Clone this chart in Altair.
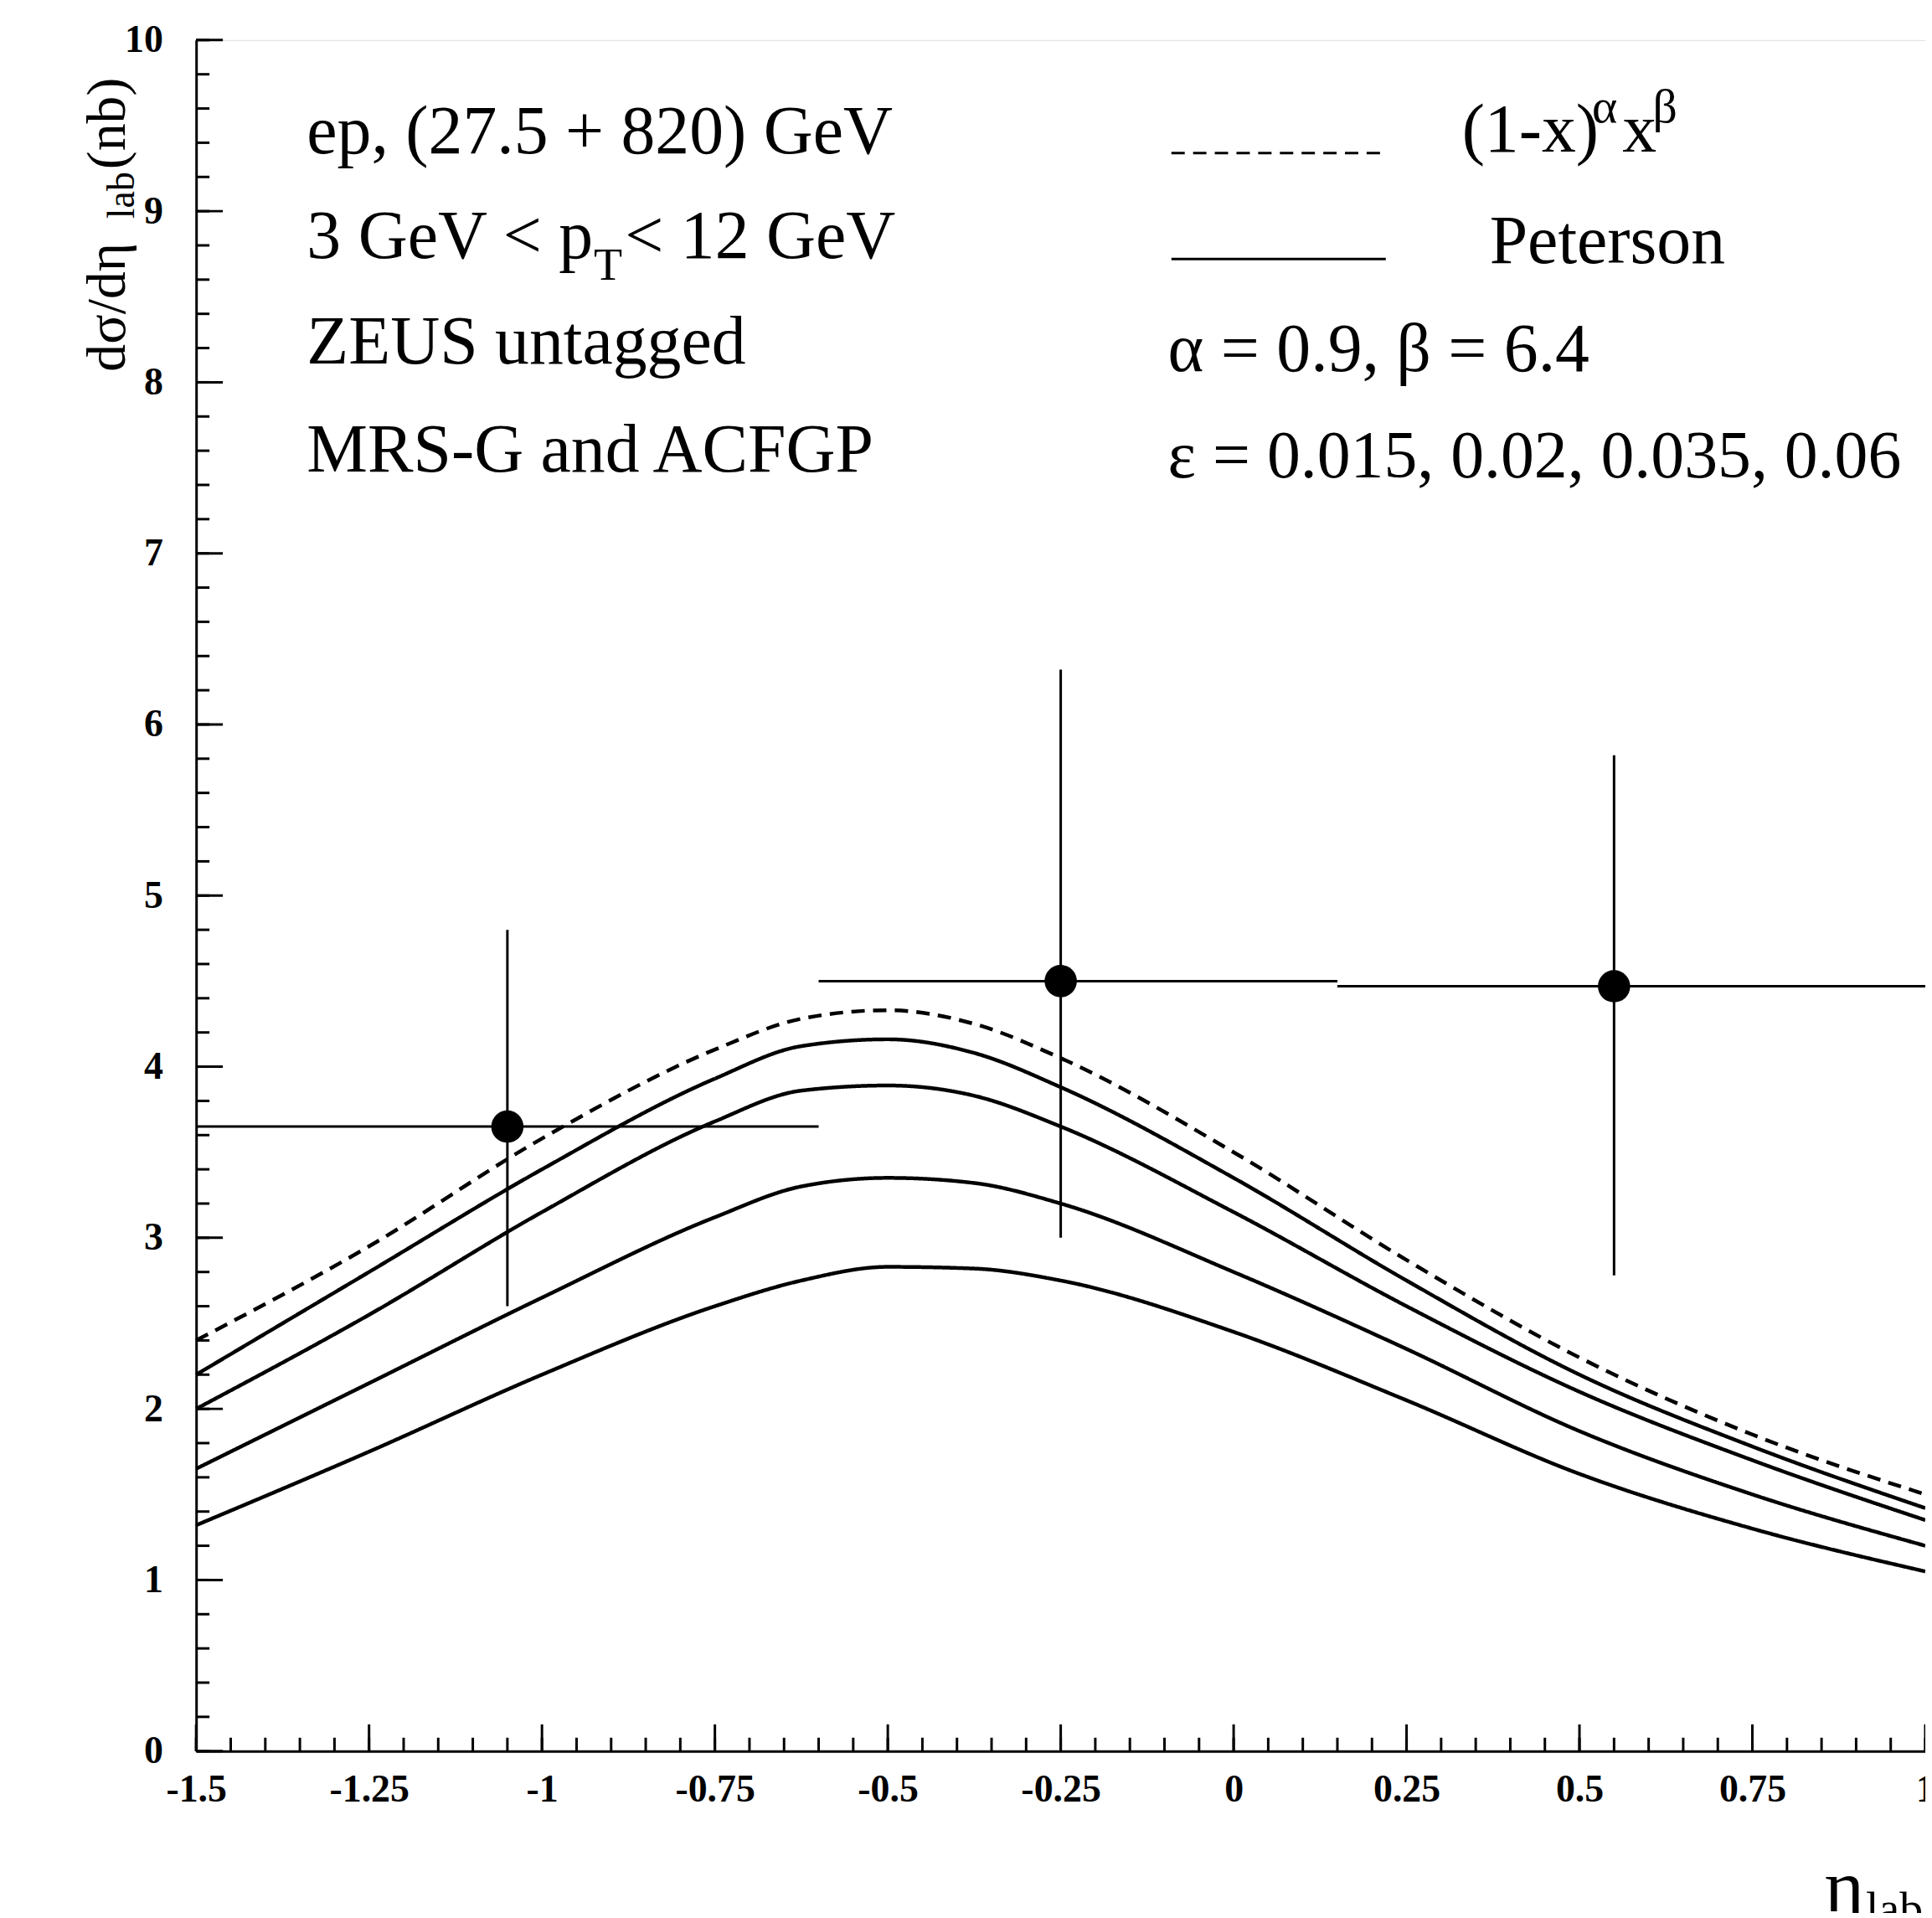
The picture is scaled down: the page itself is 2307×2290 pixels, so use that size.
import altair as alt
import numpy as np
import pandas as pd

eta = [-1.5, -1.25, -1.0, -0.75, -0.625, -0.5, -0.375, -0.25, 0.0, 0.25, 0.5, 0.75, 1.0]
dashed = [2.4, 2.95, 3.58, 4.1, 4.28, 4.33, 4.25, 4.05, 3.5, 2.87, 2.3, 1.85, 1.5]
pet_015 = [2.2, 2.8, 3.4, 3.93, 4.12, 4.16, 4.08, 3.88, 3.35, 2.75, 2.2, 1.78, 1.42]
pet_02 = [2.0, 2.55, 3.15, 3.68, 3.86, 3.89, 3.83, 3.65, 3.15, 2.6, 2.1, 1.7, 1.35]
pet_035 = [1.65, 2.15, 2.65, 3.12, 3.3, 3.35, 3.32, 3.2, 2.8, 2.35, 1.87, 1.5, 1.2]
pet_06 = [1.32, 1.75, 2.2, 2.6, 2.75, 2.83, 2.82, 2.75, 2.45, 2.05, 1.62, 1.3, 1.05]

pt_x = [-1.05, -0.25, 0.55]
pt_y = [3.65, 4.5, 4.47]
pt_xlo = [-1.5, -0.6, 0.15]
pt_xhi = [-0.6, 0.15, 1.0]
pt_ylo = [2.6, 3.0, 2.78]
pt_yhi = [4.8, 6.32, 5.82]

W, H = 2072, 2050
SERIF = "Liberation Serif"
LBL = "replace(format(datum.value, '.2~f'), '\u2212', '-')"

xs = alt.Scale(domain=[-1.5, 1.0], nice=False, zero=False)
ys = alt.Scale(domain=[0, 10], nice=False)

rows = []
for name, vals in [("dash", dashed), ("e015", pet_015), ("e02", pet_02), ("e035", pet_035), ("e06", pet_06)]:
    for x, y in zip(eta, vals):
        rows.append({"curve": name, "eta": x, "val": y, "dashed": name == "dash"})
curves = pd.DataFrame(rows)

pts = pd.DataFrame({"x": pt_x, "y": pt_y, "xlo": pt_xlo, "xhi": pt_xhi, "ylo": pt_ylo, "yhi": pt_yhi})

base_x = alt.X("eta:Q", scale=xs,
               axis=alt.Axis(values=[-1.5, -1.25, -1, -0.75, -0.5, -0.25, 0, 0.25, 0.5, 0.75, 1],
                             title=None, ticks=False, domainColor="black", domainWidth=3,
                             labelFont=SERIF, labelFontSize=46, labelFontWeight="bold",
                             labelColor="black", labelPadding=24, grid=False, labelFlush=False,
                             labelExpr=LBL))
base_y = alt.Y("val:Q", scale=ys,
               axis=alt.Axis(values=list(range(11)), title=None, ticks=False, domainColor="black",
                             domainWidth=3, labelFont=SERIF, labelFontSize=46, labelFontWeight="bold",
                             labelColor="black", labelPadding=40, grid=False, labelExpr=LBL))

lines = alt.Chart(curves).mark_line(color="black", strokeWidth=4.5, interpolate="monotone").encode(
    x=base_x, y=base_y, detail="curve:N",
    strokeDash=alt.StrokeDash("dashed:N", scale=alt.Scale(domain=[False, True], range=[[1, 0], [16, 10]]), legend=None),
)

xbars = alt.Chart(pts).mark_rule(color="black", strokeWidth=3).encode(
    x=alt.X("xlo:Q", scale=xs), x2="xhi:Q", y=alt.Y("y:Q", scale=ys))
ybars = alt.Chart(pts).mark_rule(color="black", strokeWidth=3).encode(
    x=alt.X("x:Q", scale=xs), y=alt.Y("ylo:Q", scale=ys), y2="yhi:Q")
dots = alt.Chart(pts).mark_point(filled=True, color="black", opacity=1, size=1500, shape="circle").encode(
    x=alt.X("x:Q", scale=xs), y=alt.Y("y:Q", scale=ys))

# inward ticks
xmaj = [round(v, 2) for v in np.arange(-1.5, 1.001, 0.25)]
xmin = [round(v, 2) for v in np.arange(-1.5, 1.001, 0.05)]
ymaj = list(range(11))
ymin = [round(v, 1) for v in np.arange(0, 10.01, 0.2)]
tx_maj = alt.Chart(pd.DataFrame({"t": xmaj})).mark_rule(color="black", strokeWidth=3).encode(
    x=alt.X("t:Q", scale=xs), y=alt.value(H), y2=alt.value(H - 32))
tx_min = alt.Chart(pd.DataFrame({"t": xmin})).mark_rule(color="black", strokeWidth=3).encode(
    x=alt.X("t:Q", scale=xs), y=alt.value(H), y2=alt.value(H - 16))
ty_maj = alt.Chart(pd.DataFrame({"t": ymaj})).mark_rule(color="black", strokeWidth=3).encode(
    y=alt.Y("t:Q", scale=ys), x=alt.value(0), x2=alt.value(32))
ty_min = alt.Chart(pd.DataFrame({"t": ymin})).mark_rule(color="black", strokeWidth=3).encode(
    y=alt.Y("t:Q", scale=ys), x=alt.value(0), x2=alt.value(16))

# legend lines
leg = pd.DataFrame({"x1": [-0.09, -0.09], "x2": [0.22, 0.22], "y": [9.34, 8.72], "d": [True, False]})
leg_lines = alt.Chart(leg).mark_rule(color="black", strokeWidth=3).encode(
    x=alt.X("x1:Q", scale=xs), x2="x2:Q", y=alt.Y("y:Q", scale=ys),
    strokeDash=alt.StrokeDash("d:N", scale=alt.Scale(domain=[False, True], range=[[1, 0], [12, 9]]), legend=None))


def txt(s, x, y, size=82, align="left"):
    return alt.Chart(pd.DataFrame({"x": [x], "y": [y], "s": [s]})).mark_text(
        font=SERIF, fontSize=size, align=align, baseline="middle", color="black").encode(
        x=alt.X("x:Q", scale=xs), y=alt.Y("y:Q", scale=ys), text="s:N")


texts = [
    txt("ep,  (27.5 + 820) GeV", -1.34, 9.46),
    txt("3 GeV < p", -1.34, 8.85),
    txt("T", -0.925, 8.68, 56),
    txt("< 12 GeV", -0.88, 8.85),
    txt("ZEUS untagged", -1.34, 8.23),
    txt("MRS-G and ACFGP", -1.34, 7.6),
    txt("(1-x)", 0.33, 9.47),
    txt("α", 0.518, 9.6, 58),
    txt("x", 0.562, 9.47),
    txt("β", 0.606, 9.6, 58),
    txt("Peterson", 0.37, 8.82),
    txt("α = 0.9, β = 6.4", -0.095, 8.19),
    txt("ε = 0.015, 0.02, 0.035, 0.06", -0.095, 7.56, 80),
]


def ptxt(s, x, y, size, angle=0):
    return alt.Chart(pd.DataFrame({"s": [s]})).mark_text(
        font=SERIF, fontSize=size, align="center", baseline="middle", color="black", angle=angle).encode(
        x=alt.value(x), y=alt.value(y), text="s:N")


ylab = [
    ptxt("dσ/dη", -106, 320, 66, 270),
    ptxt("lab", -88, 186, 46, 270),
    ptxt("(nb)", -106, 100, 66, 270),
]
xlab = [ptxt("η", 1975, 2215, 90), ptxt("lab", 2035, 2240, 56)]

chart = alt.layer(lines, xbars, ybars, dots, tx_maj, tx_min, ty_maj, ty_min, leg_lines,
                  *texts, *ylab, *xlab).properties(
    width=W, height=H,
    autosize=alt.AutoSizeParams(type="none"),
    padding={"left": 227, "top": 36, "right": 0, "bottom": 190},
).configure_view(stroke="black", strokeWidth=3).configure(background="white")

chart.save("out.html", embed_options={"renderer": "svg", "actions": False})
